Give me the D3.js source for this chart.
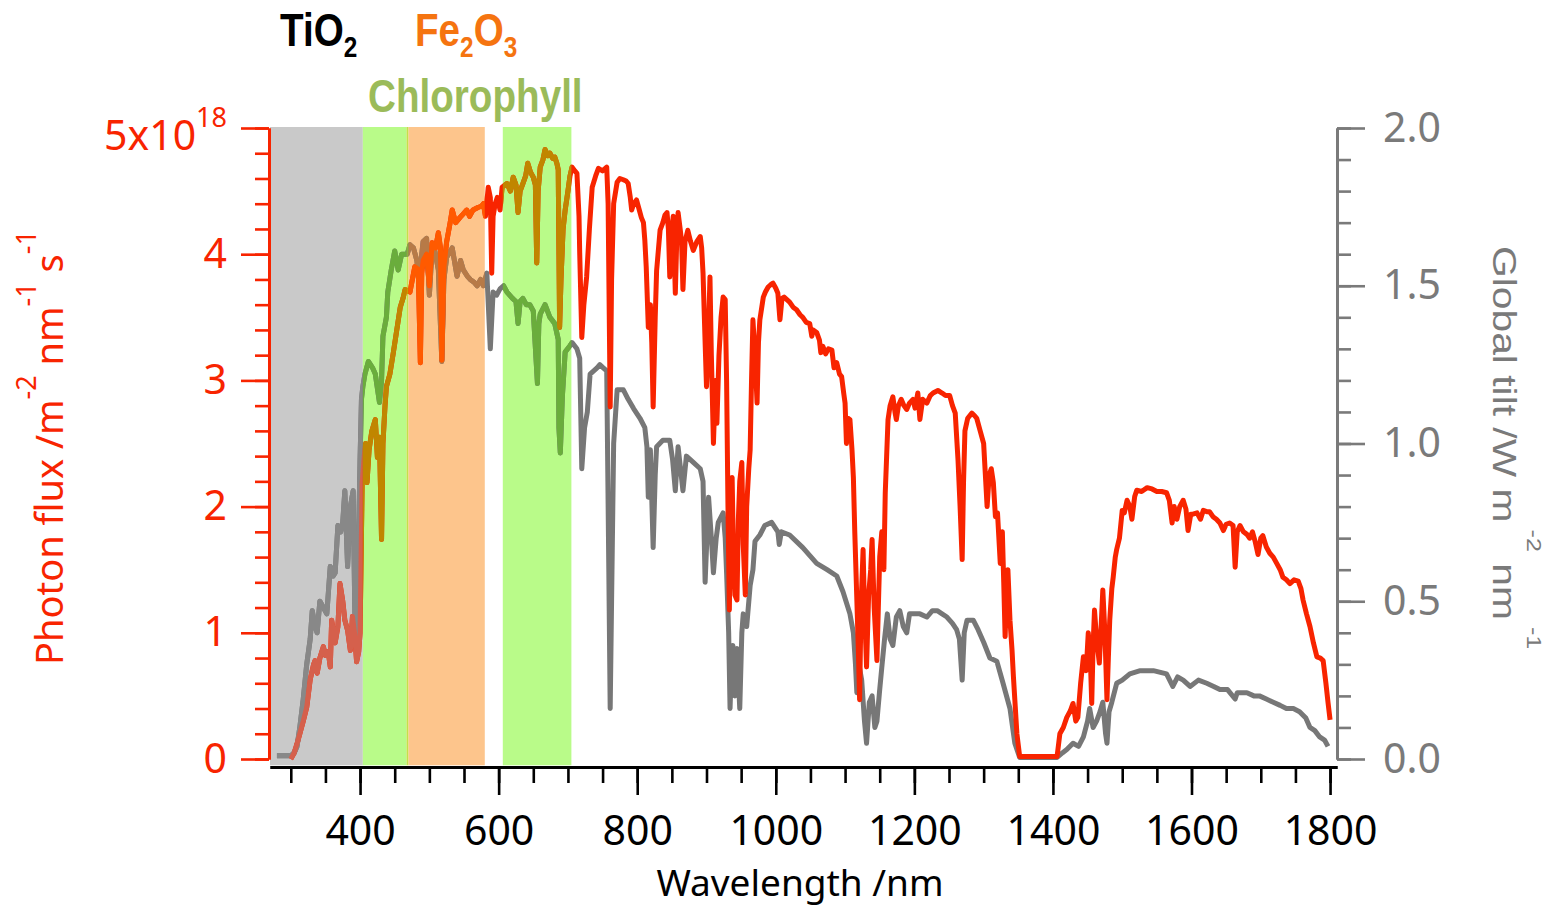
<!DOCTYPE html>
<html><head><meta charset="utf-8">
<script src="https://cdn.jsdelivr.net/npm/d3@7"></script>
<style>
html,body{margin:0;padding:0;background:#fff;}
svg{display:block;}
</style></head><body>
<svg id="chart" width="1552" height="908"></svg>
<script>
// ---------- DATA ----------
// Global tilt irradiance (W m^-2 nm^-1) : [wavelength nm, value]
const graySpectrum = [
[280,0.01],[290,0.01],[300,0.01],[305,0.02],[309,0.04],[313,0.10],[318,0.19],[323,0.30],[328,0.38],[331,0.47],
[335,0.42],[338,0.40],[342,0.50],[347,0.48],[352,0.46],[357,0.61],[361,0.58],[364,0.59],[368,0.74],[372,0.72],
[375,0.75],[378,0.85],[382,0.61],[386,0.80],[390,0.85],[393,0.38],[396,0.45],[397,0.60],[400,0.95],[402,1.14],
[404,1.18],[407,1.22],[412,1.26],[418,1.24],[422,1.22],[428,1.13],[431,1.20],[433,1.34],[438,1.40],[440,1.48],
[445,1.55],[450,1.61],[455,1.55],[460,1.60],[468,1.60],[472,1.63],[477,1.62],[482,1.58],[486,1.48],[489,1.60],
[491,1.64],[496,1.65],[500,1.47],[503,1.58],[508,1.61],[513,1.55],[518,1.26],[521,1.52],[525,1.59],[533,1.62],
[540,1.53],[545,1.58],[549,1.55],[555,1.53],[559,1.52],[565,1.51],[569,1.50],[574,1.52],[578,1.50],[583,1.54],
[588,1.30],[592,1.48],[597,1.47],[602,1.49],[607,1.50],[612,1.48],[620,1.46],[625,1.45],[628,1.38],[631,1.45],
[635,1.46],[640,1.44],[645,1.44],[650,1.42],[656,1.19],[658,1.38],[660,1.41],[667,1.44],[674,1.40],[681,1.38],
[686,1.33],[687,1.05],[689,0.97],[692,1.15],[696,1.29],[703,1.31],[706,1.32],[713,1.30],[717,1.27],[720,0.92],
[724,1.05],[728,1.10],[732,1.22],[742,1.24],[746,1.25],[751,1.24],[756,1.23],[759,0.60],[761,0.16],[763,0.50],
[766,1.00],[771,1.17],[780,1.17],[787,1.14],[795,1.11],[804,1.08],[811,1.05],[814,0.99],[816,0.83],[819,0.98],
[823,0.67],[826,0.90],[828,0.99],[837,1.01],[847,1.01],[851,0.95],[855,0.85],[859,0.99],[866,0.85],[871,0.96],
[881,0.94],[891,0.92],[895,0.88],[898,0.56],[903,0.83],[907,0.70],[910,0.59],[914,0.70],[917,0.75],[924,0.78],
[927,0.70],[929,0.59],[932,0.40],[934,0.16],[936,0.30],[938,0.36],[941,0.20],[944,0.35],[948,0.16],[951,0.40],
[953,0.46],[958,0.42],[963,0.55],[967,0.60],[970,0.69],[977,0.71],[984,0.74],[994,0.75],[1003,0.72],[1005,0.68],
[1008,0.72],[1020,0.71],[1039,0.67],[1059,0.62],[1074,0.60],[1088,0.58],[1097,0.53],[1107,0.46],[1112,0.40],[1115,0.30],
[1117,0.21],[1120,0.30],[1124,0.25],[1128,0.12],[1131,0.05],[1135,0.18],[1139,0.20],[1143,0.10],[1146,0.12],[1150,0.22],
[1153,0.29],[1157,0.38],[1161,0.46],[1165,0.38],[1169,0.36],[1174,0.45],[1179,0.47],[1184,0.42],[1189,0.40],[1193,0.46],
[1198,0.46],[1208,0.46],[1218,0.45],[1226,0.47],[1233,0.47],[1240,0.46],[1247,0.45],[1255,0.43],[1261,0.41],[1265,0.38],
[1269,0.25],[1272,0.40],[1276,0.44],[1285,0.44],[1292,0.41],[1300,0.37],[1309,0.32],[1319,0.31],[1328,0.24],[1338,0.16],
[1345,0.05],[1352,0.005],[1380,0.005],[1406,0.005],[1414,0.02],[1420,0.03],[1429,0.05],[1437,0.04],[1444,0.07],[1450,0.12],
[1453,0.16],[1458,0.10],[1463,0.12],[1468,0.15],[1472,0.18],[1476,0.08],[1478,0.05],[1481,0.15],[1485,0.18],[1492,0.24],
[1500,0.25],[1511,0.27],[1526,0.28],[1545,0.28],[1564,0.27],[1573,0.23],[1580,0.26],[1588,0.25],[1598,0.23],[1610,0.25],
[1622,0.24],[1632,0.23],[1641,0.22],[1652,0.22],[1663,0.19],[1666,0.21],[1680,0.21],[1690,0.20],[1698,0.20],[1708,0.19],
[1718,0.18],[1728,0.17],[1737,0.16],[1747,0.16],[1756,0.15],[1765,0.13],[1771,0.10],[1778,0.09],[1785,0.07],[1792,0.06],
[1797,0.04]
];
// Photon flux (x10^18 m^-2 nm^-1 s^-1) : [wavelength nm, value]
const redSpectrum = [
[300,0.00],[305,0.05],[309,0.12],[313,0.20],[318,0.30],[323,0.41],[328,0.63],[333,0.75],[335,0.78],[338,0.68],
[342,0.80],[347,0.89],[350,0.82],[354,0.85],[357,0.73],[359,1.10],[364,0.92],[368,1.05],[371,1.39],[375,1.25],
[378,1.10],[382,1.02],[386,0.86],[389,1.13],[392,1.00],[395,0.77],[398,0.85],[400,1.00],[403,2.19],[406,2.40],
[408,2.50],[410,2.19],[413,2.45],[417,2.60],[422,2.69],[425,2.39],[428,2.55],[431,1.74],[433,2.50],[436,2.80],
[438,2.95],[443,3.05],[448,3.22],[453,3.40],[458,3.58],[462,3.65],[465,3.72],[472,3.70],[479,3.90],[484,3.88],
[487,3.14],[489,3.85],[491,3.95],[496,4.00],[500,3.75],[504,4.09],[509,4.05],[513,4.17],[516,4.05],[518,3.16],
[521,3.90],[525,4.10],[530,4.25],[533,4.35],[538,4.25],[544,4.29],[549,4.32],[554,4.35],[558,4.30],[563,4.35],
[570,4.37],[575,4.38],[578,4.40],[581,4.30],[585,4.53],[588,4.45],[590,3.85],[592,4.30],[595,4.40],[598,4.45],
[602,4.35],[605,4.53],[612,4.56],[617,4.50],[621,4.61],[625,4.55],[628,4.33],[631,4.50],[635,4.56],[639,4.62],
[642,4.72],[646,4.65],[650,4.61],[653,4.55],[655,3.93],[657,4.50],[660,4.69],[664,4.75],[667,4.83],[671,4.78],
[674,4.80],[678,4.76],[681,4.77],[684,4.72],[686,4.67],[688,3.42],[690,3.80],[693,4.20],[696,4.35],[700,4.50],
[703,4.62],[706,4.69],[710,4.66],[713,4.64],[716,4.30],[717,4.01],[720,3.34],[723,3.60],[727,3.82],[731,4.20],
[735,4.53],[740,4.62],[744,4.68],[750,4.66],[756,4.69],[758,4.40],[761,2.79],[763,3.80],[766,4.40],[771,4.57],
[775,4.60],[780,4.59],[784,4.58],[787,4.56],[790,4.45],[792,4.35],[795,4.40],[799,4.43],[803,4.35],[806,4.29],
[809,4.25],[811,4.11],[813,3.90],[816,3.42],[819,3.60],[821,3.30],[823,2.79],[826,3.50],[828,3.87],[833,4.19],
[837,4.25],[840,4.31],[843,4.33],[845,4.20],[847,3.82],[850,4.20],[852,4.30],[855,3.69],[857,4.10],[859,4.33],
[862,4.20],[864,4.10],[866,3.72],[869,4.10],[873,4.19],[877,4.10],[881,4.03],[886,4.10],[891,4.14],[893,4.05],
[895,3.85],[898,3.30],[900,2.95],[903,3.40],[905,3.82],[907,3.20],[910,2.50],[913,3.00],[915,2.66],[918,3.20],
[921,3.50],[924,3.66],[927,3.64],[929,3.00],[931,2.00],[933,1.18],[935,2.00],[937,2.23],[939,1.60],[941,1.30],
[944,1.26],[946,1.90],[948,2.20],[951,2.35],[953,1.70],[956,1.30],[958,2.00],[961,2.30],[963,2.45],[965,3.00],
[967,3.48],[970,3.20],[973,2.82],[975,3.30],[977,3.48],[982,3.66],[985,3.70],[989,3.74],[993,3.76],[996,3.77],
[1000,3.73],[1003,3.69],[1006,3.48],[1009,3.65],[1012,3.66],[1016,3.64],[1020,3.62],[1025,3.58],[1030,3.56],[1035,3.52],
[1039,3.50],[1044,3.46],[1049,3.45],[1052,3.35],[1054,3.40],[1059,3.38],[1063,3.32],[1065,3.22],[1068,3.27],[1072,3.21],
[1076,3.25],[1081,3.24],[1084,3.10],[1088,3.14],[1092,3.05],[1095,3.03],[1098,2.90],[1100,2.82],[1102,2.50],[1104,2.70],
[1107,2.69],[1110,2.45],[1112,2.23],[1114,1.80],[1117,1.26],[1119,0.90],[1121,0.47],[1123,1.20],[1126,1.66],[1128,1.20],
[1131,0.73],[1134,1.30],[1137,1.50],[1139,1.74],[1142,1.20],[1146,0.78],[1148,1.20],[1150,1.60],[1153,1.80],[1156,1.50],
[1158,2.11],[1160,2.40],[1162,2.69],[1165,2.80],[1169,2.87],[1172,2.75],[1174,2.69],[1177,2.80],[1181,2.85],[1185,2.80],
[1189,2.77],[1193,2.82],[1198,2.85],[1201,2.78],[1205,2.90],[1208,2.69],[1212,2.85],[1218,2.82],[1223,2.88],[1227,2.90],
[1234,2.92],[1240,2.90],[1245,2.88],[1251,2.88],[1255,2.80],[1259,2.74],[1263,2.37],[1266,2.00],[1269,1.58],[1271,2.20],
[1273,2.60],[1277,2.70],[1283,2.74],[1287,2.72],[1290,2.70],[1295,2.60],[1300,2.50],[1303,2.20],[1305,2.00],[1308,2.25],
[1311,2.30],[1314,2.19],[1317,1.92],[1320,1.95],[1324,1.55],[1327,1.80],[1329,1.40],[1331,0.97],[1333,1.30],[1335,1.50],
[1338,1.10],[1341,0.86],[1343,0.65],[1345,0.47],[1348,0.20],[1352,0.02],[1380,0.02],[1406,0.02],[1410,0.20],[1415,0.25],
[1420,0.33],[1425,0.38],[1429,0.44],[1433,0.30],[1436,0.33],[1440,0.60],[1444,0.81],[1448,0.70],[1451,1.00],[1454,0.80],
[1456,0.44],[1458,0.90],[1460,1.18],[1463,0.95],[1467,0.76],[1470,1.10],[1472,1.34],[1475,1.00],[1478,0.47],[1480,0.80],
[1482,1.10],[1485,1.35],[1487,1.44],[1490,1.60],[1492,1.66],[1496,1.75],[1500,1.97],[1503,1.95],[1507,2.05],[1511,2.00],
[1514,1.90],[1518,2.08],[1521,2.13],[1528,2.12],[1536,2.15],[1543,2.14],[1550,2.12],[1557,2.12],[1564,2.11],[1568,2.05],
[1572,1.87],[1575,2.00],[1579,1.90],[1583,2.00],[1588,2.05],[1592,1.98],[1595,1.81],[1599,1.94],[1602,1.94],[1608,1.95],
[1613,1.90],[1617,1.97],[1622,1.96],[1626,1.96],[1631,1.92],[1636,1.90],[1641,1.87],[1646,1.81],[1650,1.86],[1655,1.87],
[1660,1.85],[1663,1.52],[1666,1.80],[1670,1.85],[1675,1.80],[1680,1.78],[1684,1.75],[1688,1.80],[1692,1.72],[1696,1.62],
[1700,1.75],[1703,1.77],[1708,1.68],[1713,1.63],[1718,1.60],[1723,1.55],[1728,1.50],[1732,1.44],[1737,1.42],[1742,1.39],
[1748,1.42],[1754,1.41],[1758,1.35],[1761,1.26],[1766,1.15],[1771,1.05],[1776,0.92],[1781,0.81],[1786,0.80],[1790,0.78],
[1794,0.60],[1797,0.45],[1800,0.31]
];
// Absorption bands (nm)
const bandStart = [270, 404, 467, 470, 606];
const bandEnd   = [404, 467, 470, 580, 705];
const bandFill  = ["#c9c9c9", "#b9fb89", "#c4e04a", "#fdc58c", "#b9fb89"];
const bandGrayLine = ["#888888", "#6aad3c", "#8ab03a", "#b77a47", "#6aad3c"];
const bandRedLine  = ["#d5604c", "#c08600", "#c8a000", "#ff5a00", "#c08600"];
// Axis ticks
const xMajorTicks = [400, 600, 800, 1000, 1200, 1400, 1600, 1800];
const xMinorTicks = d3.range(300, 1801, 50);
const leftTicks = [0, 1, 2, 3, 4, 5];
const leftMinorTicks = d3.range(0, 5.001, 0.2);
const rightTicks = [0, 0.5, 1.0, 1.5, 2.0];
const rightMinorTicks = d3.range(0, 2.001, 0.1);

// ---------- DRAW ----------
const RED = "#f82400", GRAY = "#777777", AXGRAY = "#7a7a7a";
const svg = d3.select("#chart");
const x = d3.scaleLinear().domain([270, 1810]).range([270, 1337]);
const yL = d3.scaleLinear().domain([0, 5]).range([759, 128]);
const yR = d3.scaleLinear().domain([0, 2]).range([759, 128]);
const bandTop = yL(5) - 1, bandBot = yL(-0.05);

const defs = svg.append("defs");
bandStart.forEach((s, i) => {
  defs.append("clipPath").attr("id", "clip" + i)
    .append("rect").attr("x", x(s)).attr("y", 0)
    .attr("width", x(bandEnd[i]) - x(s)).attr("height", 908);
});

// bands
svg.append("g").selectAll("rect").data(bandStart).join("rect")
  .attr("x", d => x(d)).attr("y", bandTop)
  .attr("width", (d, i) => x(bandEnd[i]) - x(d))
  .attr("height", bandBot - bandTop)
  .attr("fill", (d, i) => bandFill[i]);

const grayLine = d3.line().x(d => x(d[0])).y(d => yR(d[1]));
const redLine = d3.line().x(d => x(d[0])).y(d => yL(d[1]));

function drawCurves(g, gc, rc) {
  g.append("path").attr("d", grayLine(graySpectrum)).attr("fill", "none")
    .attr("stroke", gc).attr("stroke-width", 5).attr("stroke-linejoin", "round");
  g.append("path").attr("d", redLine(redSpectrum)).attr("fill", "none")
    .attr("stroke", rc).attr("stroke-width", 5).attr("stroke-linejoin", "round");
}
drawCurves(svg.append("g"), GRAY, RED);
bandStart.forEach((s, i) => {
  drawCurves(svg.append("g").attr("clip-path", `url(#clip${i})`), bandGrayLine[i], bandRedLine[i]);
});

const TICKFONT = "'Noto Sans', 'Open Sans', sans-serif";
function styleAxis(g, color, w) {
  g.attr("font-family", TICKFONT).attr("font-size", 41);
  g.select(".domain").attr("stroke", color).attr("stroke-width", w);
  g.selectAll(".tick line").attr("stroke", color).attr("stroke-width", 2.6);
  g.selectAll(".tick text").attr("fill", color);
}

// left axis
const gLm = svg.append("g").attr("transform", "translate(269,0)")
  .call(d3.axisLeft(yL).tickValues(leftMinorTicks).tickSize(14).tickSizeOuter(0).tickFormat(""));
styleAxis(gLm, RED, 3);
const gL = svg.append("g").attr("transform", "translate(269,0)")
  .call(d3.axisLeft(yL).tickValues(leftTicks).tickSize(28).tickPadding(14).tickSizeOuter(0)
    .tickFormat(d => d === 5 ? "" : d3.format("d")(d)));
styleAxis(gL, RED, 3);
const t5 = svg.append("text").attr("x", 227).attr("y", yL(5) + 22)
  .attr("text-anchor", "end").attr("font-family", TICKFONT).attr("font-size", 41).attr("fill", RED);
t5.append("tspan").text("5x10");
t5.append("tspan").attr("font-size", 27).attr("dy", -23).text("18");

// right axis
const gRm = svg.append("g").attr("transform", "translate(1337,0)")
  .call(d3.axisRight(yR).tickValues(rightMinorTicks).tickSize(14).tickSizeOuter(0).tickFormat(""));
styleAxis(gRm, AXGRAY, 3);
const gR = svg.append("g").attr("transform", "translate(1337,0)")
  .call(d3.axisRight(yR).tickValues(rightTicks).tickSize(28).tickPadding(18).tickSizeOuter(0)
    .tickFormat(d3.format(".1f")));
styleAxis(gR, AXGRAY, 3);

// bottom axis
const gBm = svg.append("g").attr("transform", "translate(0,767)")
  .call(d3.axisBottom(x).tickValues(xMinorTicks).tickSize(16).tickSizeOuter(0).tickFormat(""));
styleAxis(gBm, "#000", 3);
const gB = svg.append("g").attr("transform", "translate(0,767)")
  .call(d3.axisBottom(x).tickValues(xMajorTicks).tickSize(28).tickPadding(21).tickSizeOuter(0)
    .tickFormat(d3.format("d")));
styleAxis(gB, "#000", 3);

// axis titles
svg.append("text").attr("x", 800).attr("y", 896).attr("text-anchor", "middle")
  .attr("font-family", TICKFONT).attr("font-size", 37).attr("fill", "#000").text("Wavelength /nm");

const lt = svg.append("text").attr("transform", "translate(63,665) rotate(-90)")
  .attr("font-family", TICKFONT).attr("font-size", 38).attr("fill", RED);
lt.append("tspan").text("Photon flux /m");
lt.append("tspan").attr("font-size", 27).attr("dy", -27).text("-2");
lt.append("tspan").attr("dy", 27).text(" nm");
lt.append("tspan").attr("font-size", 27).attr("dy", -27).text("-1");
lt.append("tspan").attr("dy", 27).text(" s");
lt.append("tspan").attr("font-size", 27).attr("dy", -27).text("-1");

const ARIAL = "'Liberation Sans', Arimo, Arial, sans-serif";
const rt = svg.append("text").attr("transform", "translate(1493,246) rotate(90) scale(1.2,1)")
  .attr("font-family", ARIAL).attr("font-size", 34).attr("fill", AXGRAY);
rt.append("tspan").text("Global tilt /W m");
rt.append("tspan").attr("font-size", 21).attr("dy", -34).text(" -2");
rt.append("tspan").attr("dy", 34).text(" nm");
rt.append("tspan").attr("font-size", 21).attr("dy", -34).text(" -1");

// band labels (Arial-narrow style: bold, horizontally condensed)
function label(parts, xx, yy, color) {
  const t = svg.append("text").attr("transform", `translate(${xx},${yy}) scale(0.84,1)`)
    .attr("font-family", ARIAL).attr("font-weight", "bold").attr("font-size", 46).attr("fill", color);
  let shift = 0;
  parts.forEach(p => {
    const sub = p.sub;
    const dy = (sub ? 11 : 0) - shift;
    shift = sub ? 11 : 0;
    t.append("tspan").attr("dy", dy).attr("font-size", sub ? 29 : 46).text(p.t);
  });
}
label([{t: "TiO"}, {t: "2", sub: true}], 280, 46, "#000");
label([{t: "Fe"}, {t: "2", sub: true}, {t: "O"}, {t: "3", sub: true}], 415, 46, "#f57410");
label([{t: "Chlorophyll"}], 368, 112, "#9bbb59");
</script>
</body></html>
